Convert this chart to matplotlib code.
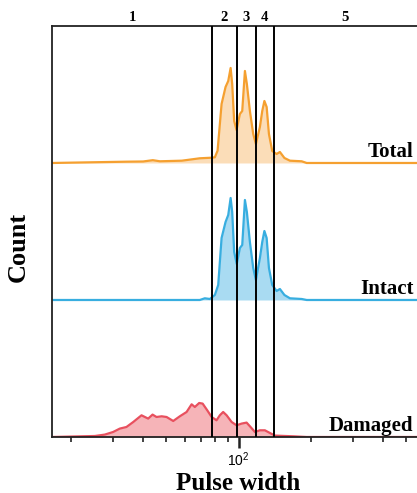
import matplotlib
matplotlib.use("Agg")
import matplotlib.pyplot as plt
import matplotlib.transforms as mtransforms
from matplotlib.ticker import LogLocator, NullFormatter, FixedLocator
import numpy as np

# Pulse width range shown and the gate boundaries
x_range = [16.7, 553]
gates = [77.6, 98.0, 117.7, 140.2]
region_labels = ["1", "2", "3", "4", "5"]

# Histograms (count in arbitrary units)
total_width = [16.7, 34.2, 40.0, 43.9, 47.0, 58.0, 68.9, 77.4, 79.6, 81.7, 84.9,
               88.2, 90.5, 92.6, 94.0, 95.8, 98.0, 101.2, 103.5, 106.2, 108.2,
               111.4, 115.0, 118.0, 122.6, 125.4, 128.0, 130.8, 133.7, 138.0,
               143.9, 148.5, 155.1, 163.5, 183.0, 192.0, 553]
total_count = [0, 1.3, 1.5, 2.8, 1.7, 2.3, 4.7, 5.3, 5.7, 12.3, 59,
               76, 82, 95, 79, 42, 33, 49, 52, 92, 79,
               52, 29, 19, 36, 52, 62, 56, 29, 12,
               9, 11, 5, 2.3, 1.7, 0, 0]

intact_width = [16.7, 68.9, 72.3, 75.9, 79.6, 82.2, 84.9, 88.2, 90.5, 92.6,
                94.0, 95.8, 98.2, 101.2, 103.5, 106.2, 108.2, 111.4, 115.0,
                118.0, 122.6, 125.4, 128.0, 130.8, 133.7, 138.0, 143.9, 148.5,
                155.1, 163.5, 183.0, 192.0, 553]
intact_count = [0, 0, 1.7, 1, 5, 15, 62, 78, 85, 102,
                88, 48, 36, 52, 55, 100, 88, 58, 32,
                20, 42, 58, 69, 62, 32, 15, 9, 11,
                5, 1.7, 1, 0, 0]

damaged_width = [16.7, 25.2, 27.7, 30.0, 32.0, 34.1, 36.4, 39.4, 40.7, 42.0,
                 43.8, 45.5, 47.8, 50.1, 53.4, 56.9, 60.7, 63.7, 65.7, 68.5,
                 70.8, 74.0, 77.2, 80.9, 83.5, 86.2, 89.1, 93.5, 98.0, 102.9,
                 107.9, 112.1, 116.9, 122.6, 128.6, 135.0, 141.6, 168.8, 191.9, 553]
damaged_count = [0, 1, 2.4, 5, 8.4, 10, 15, 21.7, 20, 18.4,
                 22.4, 20, 20.7, 20, 16, 20.7, 25, 32.7, 30, 34,
                 33.4, 26.7, 20, 16.7, 21.7, 25, 21.7, 15, 11.7, 13.4,
                 14.4, 10, 5, 6.7, 6.7, 4, 1.4, 0.7, 0, 0]

trace_names = ["Total", "Intact", "Damaged"]
line_colors = ["#F5A030", "#38AEE0", "#E8505E"]
fill_colors = ["#FBDDB8", "#A9DBF2", "#F6B4B8"]

if __name__ == "__main__":
    plt.rcParams["font.family"] = ["Liberation Serif", "DejaVu Serif"]

    fig = plt.figure(figsize=(4.17, 4.93), dpi=100)
    ax = fig.add_axes([0.1247, 0.1136, 0.8753, 0.8337])

    traces = [(total_width, total_count), (intact_width, intact_count),
              (damaged_width, damaged_count)]
    band = 137.0  # count units per stacked band
    n = len(traces)
    label_trans = mtransforms.blended_transform_factory(ax.transAxes, ax.transData)

    for i, (w, c) in enumerate(traces):
        offset = n - 1 - i
        y = offset + np.array(c) / band
        ax.fill_between(w, offset, y, color=fill_colors[i], lw=0, zorder=1)
        ax.plot(w, y, color=line_colors[i], lw=1.6, zorder=2, solid_joinstyle="round")
        ax.text(0.99, offset + 0.045, trace_names[i], transform=label_trans,
                ha="right", va="baseline", fontsize=15, fontweight="bold")

    # Gate lines
    for g in gates:
        ax.axvline(g, color="black", lw=1.4, zorder=3)

    # Region numbers centred between gates (log space)
    edges = [x_range[0]] + gates + [x_range[1]]
    trans = mtransforms.blended_transform_factory(ax.transData, ax.transAxes)
    for k, lab in enumerate(region_labels):
        xm = 10 ** ((np.log10(edges[k]) + np.log10(edges[k + 1])) / 2)
        ax.text(xm, 1.011, lab, transform=trans, ha="center", va="baseline",
                fontsize=10.5, fontweight="bold")

    ax.set_xscale("log")
    ax.set_xlim(x_range)
    ax.set_ylim(0, n)

    ax.xaxis.set_major_locator(FixedLocator([100]))
    ax.xaxis.set_minor_locator(LogLocator(base=10, subs=np.arange(2, 10)))
    ax.xaxis.set_minor_formatter(NullFormatter())
    ax.set_xticks([100])
    ax.set_xticklabels([r"$\mathregular{10^2}$"], family="Liberation Sans", fontsize=10)
    ax.tick_params(axis="x", which="major", length=8, width=1.8, direction="out", pad=2, color="#222222")
    ax.tick_params(axis="x", which="minor", length=3.8, width=1.2, direction="out", color="#222222")
    ax.set_yticks([])

    for side in ["left", "top", "bottom"]:
        ax.spines[side].set_linewidth(1.3)
        ax.spines[side].set_color("#222222")
    ax.spines["right"].set_visible(False)

    fig.text(238 / 417, 1 - 483 / 493, "Pulse width", ha="center", va="center",
             fontsize=18, fontweight="bold")
    fig.text(18 / 417, 1 - 247 / 493, "Count", ha="center", va="center",
             rotation=90, fontsize=19, fontweight="bold")

    fig.savefig("out.png", dpi=100)
